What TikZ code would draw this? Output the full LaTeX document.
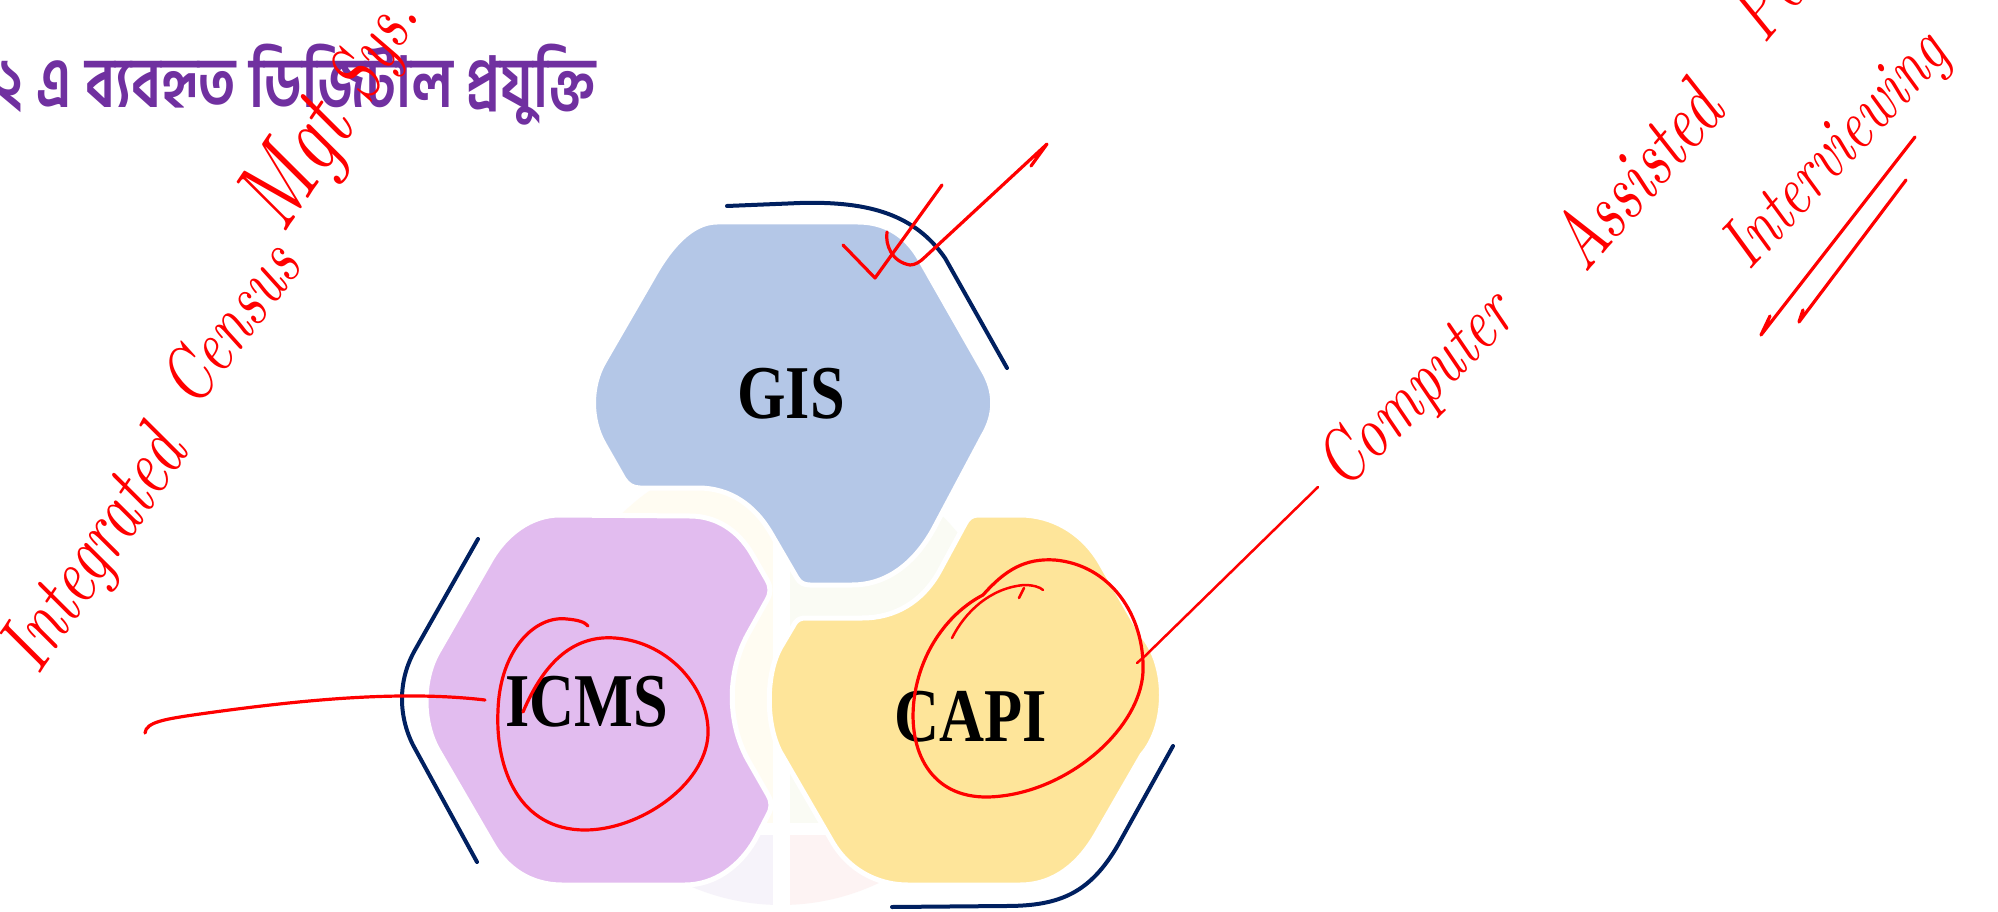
\documentclass[tikz,border=0pt]{standalone}
\usepackage{fontspec}
\usepackage{graphicx}
\newfontfamily\bnfont[Script=Bengali, FakeStretch=0.8]{Hind Siliguri}
\newfontfamily\hexfont[FakeStretch=0.82]{Liberation Serif}
\definecolor{gisc}{HTML}{B4C7E7}
\definecolor{icmsc}{HTML}{E2BCEF}
\definecolor{capic}{HTML}{FEE59A}
\definecolor{navyc}{HTML}{002060}
\definecolor{penred}{HTML}{FF0000}
\definecolor{titlec}{HTML}{7030A0}
\definecolor{fy}{HTML}{FFFCF2}
\definecolor{fg}{HTML}{FAFBF4}
\definecolor{fl}{HTML}{F6F3FA}
\definecolor{fpk}{HTML}{FDF3F3}
\newcommand{\handword}[2]{\scalebox{1}[1.3]{\resizebox{#1}{!}{\itshape #2}}}
\tikzset{
  hexshape/.style={draw=white, line width=5pt},
  navyline/.style={draw=navyc, line width=4pt, line cap=round, line join=round},
  pen/.style={draw=penred, line width=3.2pt, line cap=round, line join=round},
  hand/.style={text=penred, inner sep=0pt, font=\itshape},
  hexlabel/.style={inner sep=0pt, font=\hexfont\bfseries\fontsize{76}{80}\selectfont}
}
\begin{document}
\begin{tikzpicture}[x=1pt,y=-1pt]
\useasboundingbox (0,0) rectangle (1998,912);
\fill[white] (0,0) rectangle (1998,912);
\clip (0,0) rectangle (1998,912);

% faint background circle pieces
\begin{scope}
  \clip (781,677) circle (228);
  \fill[fy] (550,445) rectangle (781,829);
  \fill[fg] (781,445) rectangle (1012,829);
  \fill[fl] (550,829) rectangle (781,910);
  \fill[fpk] (781,829) rectangle (1012,910);
\end{scope}
\fill[white] (773,440) rectangle (790,912);
\fill[white] (540,823) rectangle (1020,835);

% hexagons
\filldraw[hexshape, fill=gisc] (717,222) -- (858,222) .. controls (885,222) and (905,235) .. (918,256) -- (983,370) .. controls (996,392) and (996,414) .. (983,436) -- (933,530) .. controls (915,562) and (888,585) .. (852,585) -- (810,585) .. controls (804,585) and (800,583) .. (797,578) -- (772,535) .. controls (755,505) and (730,488) .. (698,488) -- (640,488) .. controls (633,488) and (628,485) .. (624,479) -- (604,444) .. controls (590,420) and (590,386) .. (604,362) -- (652,279) .. controls (668,250) and (690,222) .. (717,222) -- cycle;

\filldraw[hexshape, fill=icmsc] (560,515) -- (690,516) .. controls (716,516) and (738,530) .. (752,554) -- (767,580) .. controls (771,587) and (771,593) .. (767,600) -- (748,634) .. controls (727,672) and (727,722) .. (748,760) -- (768,795) .. controls (772,802) and (772,808) .. (768,815) -- (755,840) .. controls (740,866) and (715,885) .. (685,885) -- (562,885) .. controls (530,885) and (506,868) .. (492,843) -- (438,750) .. controls (422,722) and (422,680) .. (438,652) -- (492,558) .. controls (506,535) and (530,515) .. (560,515) -- cycle;

\filldraw[hexshape, fill=capic] (978,515) -- (1020,515) .. controls (1052,515) and (1082,532) .. (1100,562) -- (1142,635) .. controls (1168,665) and (1168,725) .. (1142,755) -- (1097,833) .. controls (1080,863) and (1055,885) .. (1020,885) -- (908,885) .. controls (875,885) and (848,868) .. (833,843) -- (782,755) .. controls (765,727) and (765,672) .. (782,645) -- (795,623) .. controls (798,619) and (801,618) .. (806,618) -- (862,618) .. controls (895,618) and (922,602) .. (939,572) -- (965,524) .. controls (968,518) and (972,515) .. (978,515) -- cycle;

% labels
\node[hexlabel] (gis) at (791,394) {GIS};
\node[hexlabel] (icms) at (587,702) {ICMS};
\node[hexlabel] (capi) at (971,717) {CAPI};

% title
\node[anchor=base west, text=titlec, inner sep=0pt, font=\bnfont\bfseries\fontsize{70}{80}\selectfont] (title) at (-4,108) {২ এ ব্যবহৃত ডিজিটাল প্রযুক্তি};

% navy brackets
\draw[navyline] (727,206) -- (800,203) .. controls (870,201) and (915,215) .. (945,258) -- (1007,368);
\draw[navyline] (478,539) -- (415,650) .. controls (398,680) and (398,715) .. (413,745) -- (477,862);
\draw[navyline] (1173,746) -- (1118,845) .. controls (1090,893) and (1060,906) .. (1006,906) -- (892,907);

% red annotations
\draw[pen] (843,245) -- (875,278) -- (942,185);
\draw[pen] (887,232) .. controls (885,245) and (892,262) .. (910,265) .. controls (915,265) and (920,262) .. (925,257) -- (1047,144) -- (1031,166);

\draw[pen] (523,712) .. controls (545,660) and (575,635) .. (615,638) .. controls (670,642) and (710,690) .. (708,735) .. controls (705,785) and (640,830) .. (585,830) .. controls (520,830) and (495,770) .. (498,710) .. controls (500,650) and (535,615) .. (567,619) .. controls (578,620) and (585,622) .. (588,626);

\coordinate (icmsEnd) at (485,700);
\coordinate (leftEnd) at (145,733);
\draw[pen] (leftEnd) .. controls (146,722) and (165,719) .. (200,714) .. controls (300,700) and (400,690) .. (icmsEnd);

\draw[pen] (983,595) .. controls (1005,570) and (1025,558) .. (1055,560) .. controls (1110,565) and (1145,615) .. (1143,672) .. controls (1140,730) and (1065,795) .. (988,797) .. controls (930,798) and (908,750) .. (914,700) .. controls (920,650) and (950,612) .. (983,595);
\draw[pen, line width=2.5pt] (952,638) .. controls (965,612) and (990,588) .. (1024,585) .. controls (1033,585) and (1040,587) .. (1043,590);
\draw[pen, line width=2.5pt] (1024,588) -- (1019,598);

\coordinate (capiEnd) at (1137,663);
\coordinate (compEnd) at (1318,487);
\draw[pen, line width=2.5pt] (capiEnd) -- (1145,656) -- (compEnd);

% handwritten words
\node[hand, rotate=56] (w1) at (97,553) {\handword{270pt}{Integrated}};
\node[hand, rotate=53] (w2) at (229,323) {\handword{180pt}{Census}};
\node[hand, rotate=56] (w3) at (300,168) {\handword{130pt}{Mgt}};
\node[hand, rotate=60] (w4) at (378,50) {\handword{105pt}{Sys.}};

\node[hand, rotate=45] (w5) at (1418,392) {\handword{245pt}{Computer}};
\node[hand, rotate=49] (w6) at (1635,175) {\handword{215pt}{Assisted}};
\node[hand, rotate=50, anchor=base west] (w7) at (1764,46) {\scalebox{1}[1.3]{\fontsize{62}{70}\selectfont\itshape Personal}};
\node[hand, rotate=47] (w8) at (1838,152) {\handword{295pt}{Interviewing}};

\draw[pen] (1770,316) -- (1761,335) -- (1915,137);
\draw[pen] (1803,310) -- (1799,322) -- (1906,180);
\end{tikzpicture}
\end{document}
